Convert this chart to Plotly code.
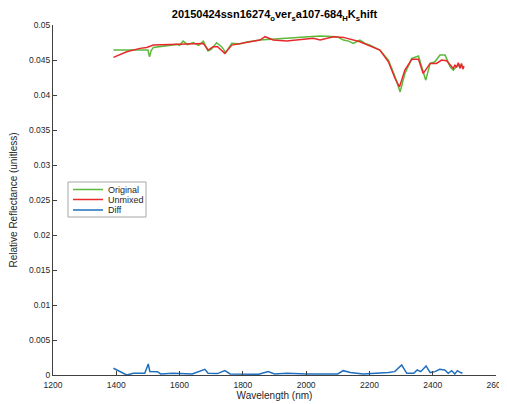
import plotly.graph_objects as go

# Original spectrum (green)
orig_wl = [1391, 1420, 1460, 1500, 1505, 1510, 1517, 1550, 1575, 1591, 1600, 1611, 1625, 1643, 1660, 1675,
           1690, 1700, 1717, 1725, 1733, 1746, 1765, 1790, 1812, 1854, 1900, 1959, 2000, 2044, 2097,
           2118, 2135, 2149, 2170, 2185, 2202, 2233, 2260, 2281, 2297, 2312, 2334, 2355, 2365, 2378,
           2392, 2407, 2423, 2439, 2455, 2465, 2476, 2486, 2499]
orig_val = [0.04642, 0.04642, 0.04642, 0.04642, 0.04546, 0.0463, 0.0468, 0.0470, 0.04715, 0.04723, 0.0471,
            0.0477, 0.0472, 0.0475, 0.0471, 0.0477, 0.0463, 0.0465, 0.04747, 0.0472, 0.0469, 0.04604,
            0.0474, 0.0473, 0.04756, 0.04785, 0.0480, 0.04823, 0.0483, 0.04842, 0.04833, 0.04785,
            0.0477, 0.04737, 0.04785, 0.0474, 0.04713, 0.04642, 0.04499, 0.0426, 0.04044, 0.04308,
            0.04523, 0.04556, 0.04403, 0.04212, 0.04451, 0.04475, 0.0457, 0.0457, 0.04403, 0.04355,
            0.0441, 0.04427, 0.0440]

# Unmixed spectrum (red)
unmix_wl = [1391, 1433, 1475, 1496, 1517, 1591, 1675, 1690, 1706, 1720, 1743, 1765, 1812, 1854, 1870,
            1896, 1938, 1980, 2023, 2044, 2086, 2118, 2170, 2233, 2260, 2281, 2295, 2312, 2334, 2355,
            2370, 2392, 2412, 2428, 2444, 2465, 2470, 2475, 2481, 2486, 2491, 2495, 2499]
unmix_val = [0.04537, 0.04618, 0.04666, 0.0468, 0.04713, 0.04728, 0.04737, 0.04642, 0.0469, 0.0469,
             0.04594, 0.04713, 0.04756, 0.04785, 0.04833, 0.04785, 0.0477, 0.0479, 0.04809, 0.04785,
             0.04833, 0.04823, 0.0476, 0.04642, 0.04475, 0.04236, 0.04116, 0.04356, 0.0451, 0.0451,
             0.04308, 0.04451, 0.04451, 0.04499, 0.0449, 0.04379, 0.0443, 0.04395, 0.0446, 0.0438,
             0.0445, 0.0437, 0.0441]

# Difference (blue)
diff_wl = [1391, 1433, 1454, 1490, 1501, 1506, 1530, 1540, 1580, 1610, 1640, 1680, 1690, 1720, 1743,
           1760, 1800, 1850, 1880, 1900, 1940, 2000, 2100, 2117, 2140, 2180, 2260, 2280, 2302, 2318,
           2340, 2351, 2362, 2379, 2392, 2407, 2422, 2438, 2449, 2460, 2470, 2478, 2488, 2494]
diff_val = [0.00096, 0.0, 0.00024, 0.00024, 0.00158, 0.0005, 0.00048, 0.00015, 0.00024, 0.0002, 0.00015,
            0.00081, 0.00024, 0.0002, 0.00062, 0.00015, 0.00015, 0.0001, 0.00048, 0.00015, 0.00024,
            0.00015, 0.00015, 0.00062, 0.00035, 0.00015, 0.00035, 0.00048, 0.00143, 0.00024, 0.00024,
            0.00072, 0.00048, 0.0013, 0.00035, 0.00048, 0.00081, 0.00072, 0.00024, 0.00062, 0.00015,
            0.00062, 0.00035, 0.00024]

series_names = ["Original", "Unmixed", "Diff"]
series_colors = ["#5cb83a", "#e8282b", "#1f6fbf"]

x_ticks = [1200, 1400, 1600, 1800, 2000, 2200, 2400, 2600]
y_ticks = [0, 0.005, 0.01, 0.015, 0.02, 0.025, 0.03, 0.035, 0.04, 0.045, 0.05]
y_labels = ["0", "0.005", "0.01", "0.015", "0.02", "0.025", "0.03", "0.035", "0.04", "0.045", "0.05"]

# page has an 8px body margin; size the figure so the plot area lands where the reference has it
OFF = 8
W, H = 507 - OFF, 404 - OFF
L, R, T, B = 53 - OFF, 11, 25 - OFF, 29
PW, PH = W - L - R, H - T - B

def px_x(px):
    return (px - OFF - L) / PW

def px_y(py):
    return (OFF + H - B - py) / PH

FONT = "Liberation Sans, Arial, Helvetica, sans-serif"

fig = go.Figure()
for xs, ys, nm, col in [(orig_wl, orig_val, series_names[0], series_colors[0]),
                        (unmix_wl, unmix_val, series_names[1], series_colors[1]),
                        (diff_wl, diff_val, series_names[2], series_colors[2])]:
    fig.add_trace(go.Scatter(x=xs, y=ys, mode="lines", name=nm,
                             line=dict(color=col, width=1.5), showlegend=False))

# compact MATLAB-style legend box
shapes = [dict(type="rect", xref="paper", yref="paper",
               x0=px_x(68), x1=px_x(146), y0=px_y(217), y1=px_y(182),
               line=dict(color="#a6a6a6", width=1), fillcolor="white", layer="above")]
annotations = []
legend_rows = [189.5, 199.5, 210]
for row, nm, col in zip(legend_rows, series_names, series_colors):
    shapes.append(dict(type="line", xref="paper", yref="paper",
                       x0=px_x(73), x1=px_x(103), y0=px_y(row), y1=px_y(row),
                       line=dict(color=col, width=1.5), layer="above"))
    annotations.append(dict(text=nm, xref="paper", yref="paper", x=px_x(106), y=px_y(row),
                            xanchor="left", yanchor="middle", showarrow=False,
                            font=dict(family=FONT, size=9, color="#262626")))

tick_font = dict(family=FONT, size=8.5, color="#262626")
fig.update_layout(
    width=W, height=H,
    margin=dict(l=L, r=R, t=T, b=B, autoexpand=False),
    paper_bgcolor="white", plot_bgcolor="white",
    font=dict(family=FONT, size=9, color="#262626"),
    title=dict(text="<b>20150424ssn16274<sub>o</sub>ver<sub>s</sub>a107-684<sub>H</sub>K<sub>s</sub>hift</b>",
               xref="paper", x=0.5, xanchor="center", yref="container",
               y=1 - (14.5 - OFF) / H, yanchor="middle",
               font=dict(family=FONT, size=11, color="black")),
    showlegend=False,
    shapes=shapes,
    annotations=annotations,
    xaxis=dict(range=[1200, 2600], tickvals=x_ticks, ticks="inside", ticklen=4,
               showline=True, linecolor="#404040", linewidth=1, showgrid=False, zeroline=False,
               tickfont=tick_font, tickcolor="#404040", automargin=False, ticklabelstandoff=2,
               title=dict(text="Wavelength (nm)", standoff=1, font=dict(family=FONT, size=10, color="#262626"))),
    yaxis=dict(range=[0, 0.05], tickvals=y_ticks, ticktext=y_labels, ticks="inside", ticklen=4,
               showline=True, linecolor="#404040", linewidth=1, showgrid=False, zeroline=False,
               tickfont=tick_font, tickcolor="#404040", automargin=False,
               title=dict(text="Relative Reflectance (unitless)", standoff=10,
                          font=dict(family=FONT, size=10, color="#262626"))),
)

fig.write_html("out.html")
